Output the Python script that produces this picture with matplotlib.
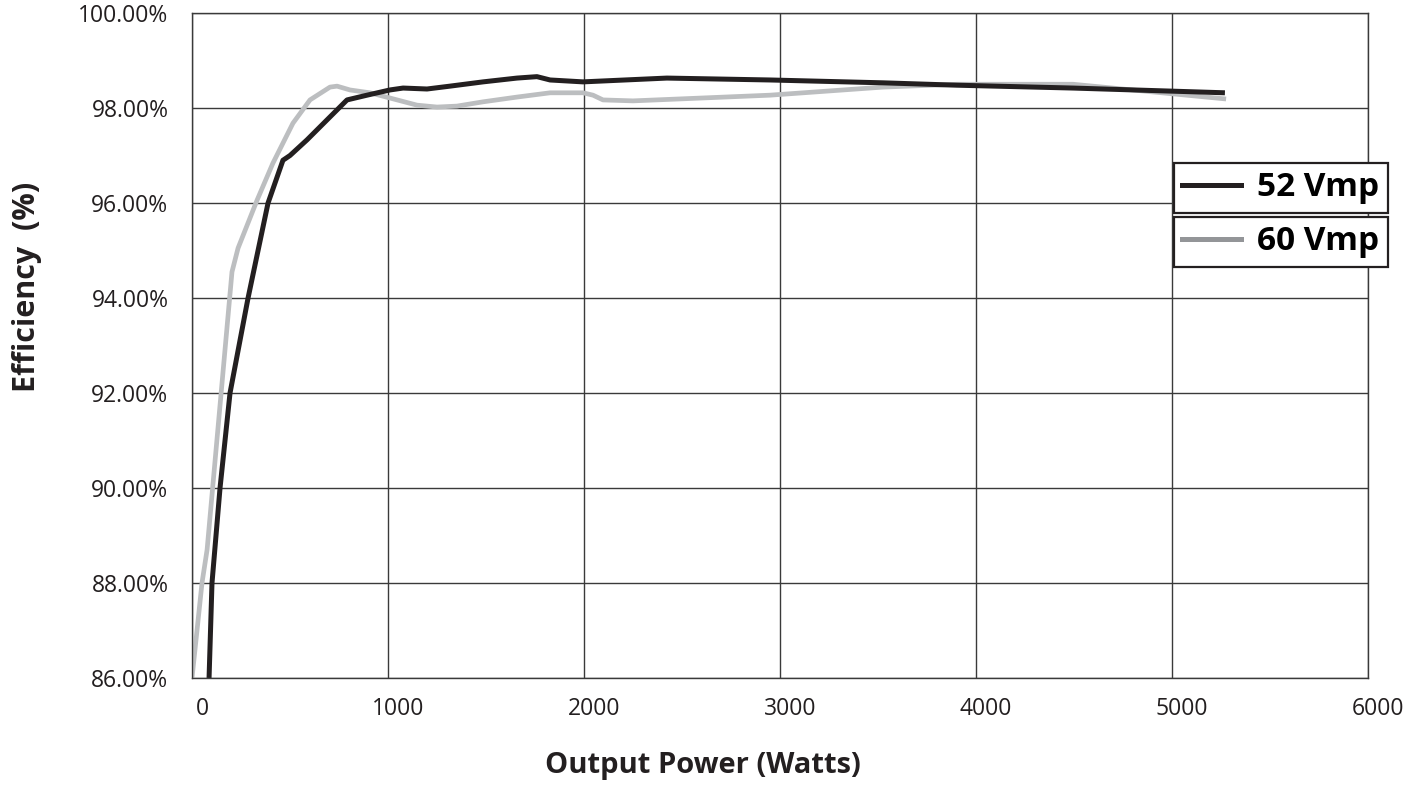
import matplotlib.pyplot as plt
from matplotlib.lines import Line2D
from matplotlib.transforms import ScaledTranslation

plt.rcParams['font.family'] = ['Open Sans', 'DejaVu Sans']

# 52 Vmp curve (W, %)
p52 = [87, 102, 143, 194, 286, 388, 464, 500, 587, 689, 791, 893, 1010, 1077,
       1199, 1316, 1485, 1658, 1760, 1827, 1995, 2423, 2949, 3526, 3903, 4495, 5270]
e52 = [86.0, 88.0, 90.0, 92.0, 94.0, 96.0, 96.9, 97.0, 97.33, 97.75, 98.17, 98.27, 98.38, 98.42,
       98.4, 98.46, 98.55, 98.63, 98.66, 98.59, 98.55, 98.63, 98.59, 98.53, 98.48, 98.42, 98.32]

# 60 Vmp curve
p60 = [0, 51, 77, 204, 235, 332, 413, 515, 602, 704, 740, 806, 908, 1010, 1148, 1250,
       1352, 1485, 1658, 1827, 1995, 2046, 2097, 2250, 2949, 3526, 3903, 4495, 5276]
e60 = [86.0, 88.0, 88.7, 94.55, 95.05, 96.06, 96.84, 97.68, 98.17, 98.44, 98.46, 98.38, 98.32, 98.21,
       98.06, 98.02, 98.04, 98.13, 98.23, 98.32, 98.32, 98.27, 98.17, 98.15, 98.27, 98.44, 98.5, 98.5, 98.19]

xticks = [0, 1000, 2000, 3000, 4000, 5000, 6000]
yticks = [86, 88, 90, 92, 94, 96, 98, 100]

fig = plt.figure(figsize=(14.11, 8.05), dpi=100)
ax = fig.add_axes([192/1411, 1 - 678/805, (1368-192)/1411, (678-13)/805])

ax.plot(p60, e60, color='#bcbec0', lw=3.4, solid_capstyle='butt')
ax.plot(p52, e52, color='#231f20', lw=3.6, solid_capstyle='butt')

ax.set_xlim(0, 6000)
ax.set_ylim(86, 100)
ax.set_xticks(xticks)
ax.set_yticks(yticks)
ax.set_yticklabels([f'{v:.2f}%' for v in yticks])
ax.grid(True, color='#3a3a3a', lw=1.0)
ax.tick_params(length=0, labelsize=16.5, colors='#231f20')
ax.tick_params(axis='y', pad=17)
ax.tick_params(axis='x', pad=14)
shift = ScaledTranslation(0.10, 0, fig.dpi_scale_trans)
for t in ax.get_xticklabels():
    t.set_transform(t.get_transform() + shift)
for s in ax.spines.values():
    s.set_color('#3a3a3a')
    s.set_linewidth(1.0)

fig.text(703/1411, 1 - 765/805, 'Output Power (Watts)', ha='center', va='center',
         fontsize=21, fontweight='bold', color='#231f20')
fig.text(27/1411, 1 - 287/805, 'Efficiency  (%)', ha='center', va='center', rotation=90,
         fontsize=22, fontweight='bold', color='#231f20')

h52 = Line2D([], [], color='#231f20', lw=3.6)
h60 = Line2D([], [], color='#939598', lw=3.6)
legs = []
for h, lab, top in [(h52, '52 Vmp', 163), (h60, '60 Vmp', 217)]:
    leg = fig.legend([h], [lab], loc='upper left',
                     bbox_to_anchor=(1174/1411, 1 - top/805), bbox_transform=fig.transFigure,
                     borderaxespad=0, fancybox=False, framealpha=1, edgecolor='#231f20',
                     prop={'weight': 'bold', 'size': 24}, handlelength=1.75, handletextpad=0.5,
                     borderpad=0.25)
    leg.get_frame().set_linewidth(1.6)
    legs.append(leg)

fig.savefig('out.png', dpi=100)
